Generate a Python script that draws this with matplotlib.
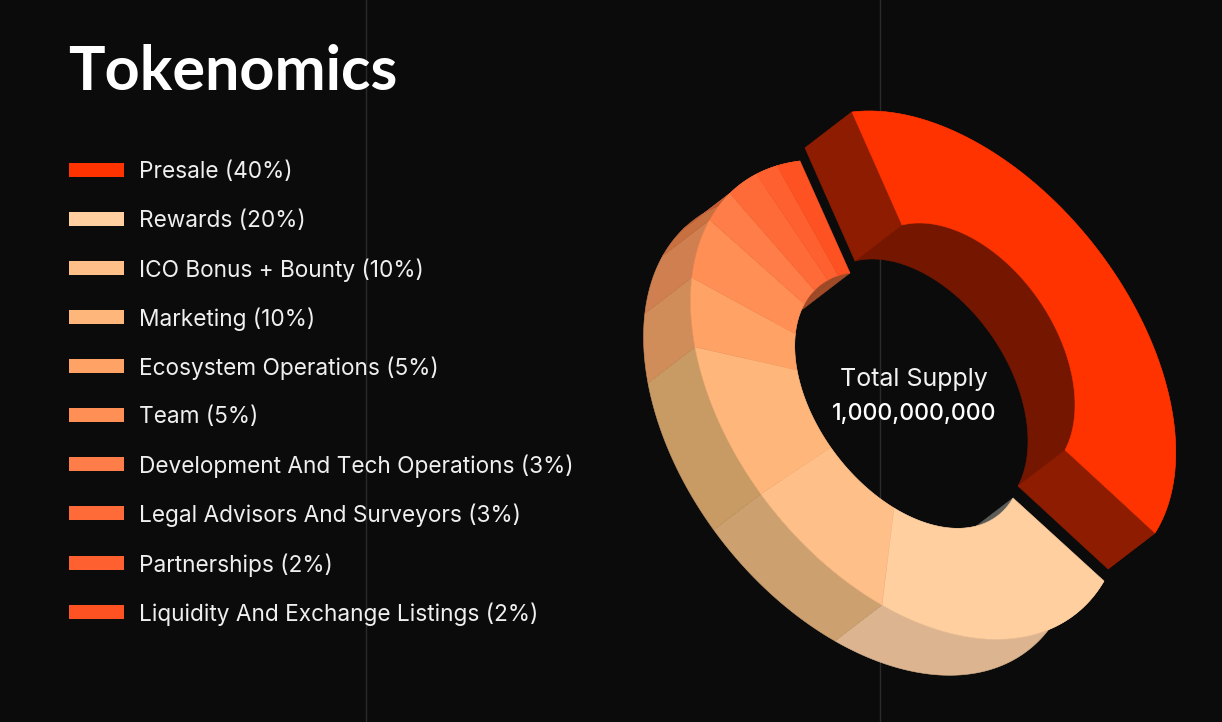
import numpy as np
import matplotlib
matplotlib.use("Agg")
import matplotlib.pyplot as plt
from matplotlib.patches import Polygon, Rectangle

labels = ['Presale', 'Rewards', 'ICO Bonus + Bounty', 'Marketing', 'Ecosystem Operations', 'Team',
          'Development And Tech Operations', 'Legal Advisors And Surveyors', 'Partnerships',
          'Liquidity And Exchange Listings']
shares = [40, 20, 10, 10, 5, 5, 3, 3, 2, 2]
top_colors = ['#ff3300', '#ffcfa0', '#ffbf88', '#ffb67a', '#ffa266', '#ff8f55', '#ff7d48', '#ff6b38', '#ff6030', '#ff5222']
wall_colors = ['#8e1c00', '#dcb590', '#cda06f', '#c89a64', '#d08d5a', '#d08050', '#c87040', '#c06038', '#c05830', '#b85028']
inner_colors = ['#751700', '#5c5c58', '#555', '#555', '#555', '#555', '#a04a28', '#a04a28', '#a04a28', '#a04a28']

BG = '#0b0b0b'
DEPTH = np.array([-47, 36])

# where some angles of the ring land on the image, the view is a projective tilt
rest_outer_angles = [144, 216, 288, 360]
rest_outer_pixels = [(1104, 581), (882, 605), (695, 347), (800, 161)]
rest_inner_angles = [144, 216, 288, 360]
rest_inner_pixels = [(1013, 498), (894, 508), (797, 370), (850, 273)]
red_outer_angles = [0, 63, 107, 144]
red_outer_pixels = [(852, 112), (1090, 240), (1173, 417), (1155, 533)]
red_inner_angles = [0, 60, 120, 144]
red_inner_pixels = [(902, 225), (1016, 272), (1075, 405), (1065, 450)]


def fit_homography(angles, pixels):
    rows = []
    rhs = []
    for a, (px, py) in zip(angles, pixels):
        x, y = np.sin(np.radians(a)), -np.cos(np.radians(a))
        rows.append([x, y, 1, 0, 0, 0, -px * x, -px * y])
        rows.append([0, 0, 0, x, y, 1, -py * x, -py * y])
        rhs += [px, py]
    h = np.linalg.solve(np.array(rows, float), np.array(rhs, float))
    return np.append(h, 1).reshape(3, 3)


H_rest_outer = fit_homography(rest_outer_angles, rest_outer_pixels)
H_rest_inner = fit_homography(rest_inner_angles, rest_inner_pixels)
H_red_outer = fit_homography(red_outer_angles, red_outer_pixels)
H_red_inner = fit_homography(red_inner_angles, red_inner_pixels)


def rim(t0, t1, h):
    t = np.radians(np.linspace(t0, t1, 80))
    p = np.stack([np.sin(t), -np.cos(t), np.ones_like(t)])
    q = h @ p
    return (q[:2] / q[2]).T


def add_poly(ax, pts, color, z):
    ax.add_patch(Polygon(pts, closed=True, facecolor=color, edgecolor=color, linewidth=0.4, zorder=z))


def draw_sides(ax, outer_top, inner_top, wall, inner, cuts, z):
    add_poly(ax, np.vstack([outer_top, (outer_top + DEPTH)[::-1]]), wall, z)
    add_poly(ax, np.vstack([inner_top, (inner_top + DEPTH)[::-1]]), inner, z + 1)
    if cuts:
        for i in (0, -1):
            add_poly(ax, [outer_top[i], inner_top[i], inner_top[i] + DEPTH, outer_top[i] + DEPTH], wall, z + 2)


fig = plt.figure(figsize=(12.22, 7.22), dpi=100, facecolor=BG)
ax = fig.add_axes([0, 0, 1, 1])
ax.set_xlim(0, 1222)
ax.set_ylim(722, 0)
ax.axis('off')

for x in [366, 880]:
    ax.axvline(x, color='#2a2a2a', linewidth=1, zorder=0)

font = 'Inter'
ax.text(68, 90, 'Tokenomics', color='white', fontsize=44, fontweight='bold', family='Lato', va='baseline', zorder=20)

legend_y = [170, 219, 268, 317, 366, 415, 464, 513, 563, 612]
for y, name, share, c in zip(legend_y, labels, shares, top_colors):
    ax.add_patch(Rectangle((69, y - 7), 55, 14, facecolor=c, edgecolor='none'))
    ax.text(139, y - 0.5, f'{name} ({share}%)', color='#efefef', fontsize=16.3, family=font, va='center_baseline')

ends = np.cumsum(shares) * 3.6
starts = ends - np.array(shares) * 3.6

# rest of the ring goes first, the pulled out presale slice sits above it
for i in range(1, len(shares)):
    draw_sides(ax, rim(starts[i], ends[i], H_rest_outer), rim(starts[i], ends[i], H_rest_inner),
               wall_colors[i], inner_colors[i], False, 2)
for i in range(1, len(shares)):
    add_poly(ax, np.vstack([rim(starts[i], ends[i], H_rest_outer), rim(starts[i], ends[i], H_rest_inner)[::-1]]),
             top_colors[i], 6)

red_outer = rim(starts[0], ends[0], H_red_outer)
red_inner = rim(starts[0], ends[0], H_red_inner)
draw_sides(ax, red_outer, red_inner, wall_colors[0], inner_colors[0], True, 8)
add_poly(ax, np.vstack([red_outer, red_inner[::-1]]), top_colors[0], 11)

ax.text(914, 386, 'Total Supply', color='#f2f2f2', fontsize=18, family=font, ha='center', va='baseline', zorder=20)
ax.text(914, 420, '1,000,000,000', color='white', fontsize=16.6, fontweight='medium', family=font, ha='center', va='baseline', zorder=20)

fig.savefig('out.png', dpi=100, facecolor=BG)
